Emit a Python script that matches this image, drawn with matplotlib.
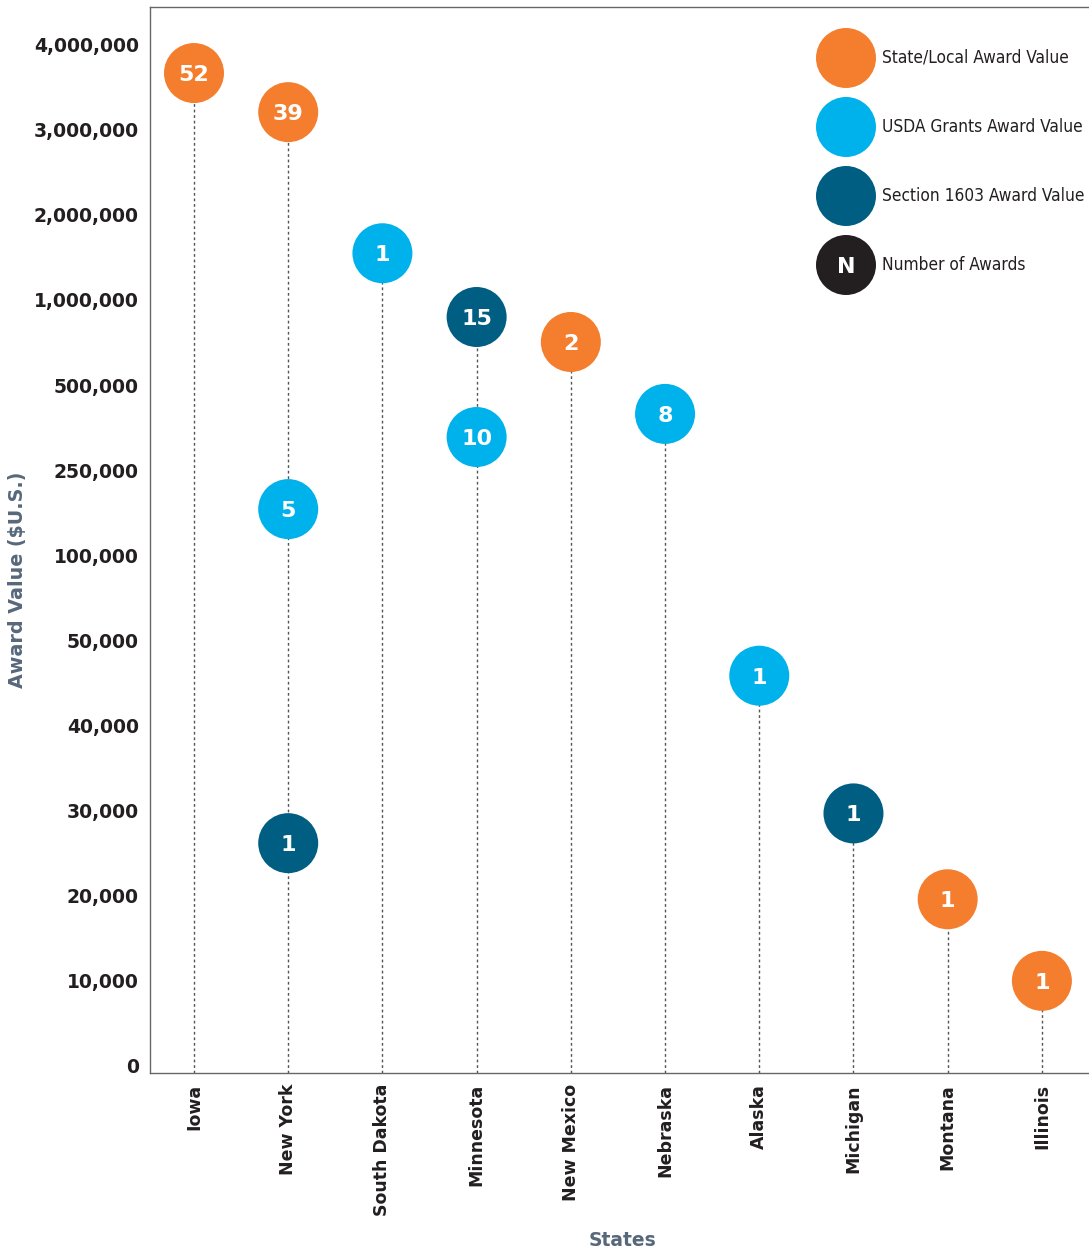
import numpy as np
import matplotlib
matplotlib.use("Agg")
import matplotlib.pyplot as plt

states = ["Iowa", "New York", "South Dakota", "Minnesota", "New Mexico",
          "Nebraska", "Alaska", "Michigan", "Montana", "Illinois"]

# award values per state (nan = no award of that type)
state_local = [3670000, 3210000, np.nan, np.nan, 753000, np.nan, np.nan, np.nan, 19500, 9900]
state_local_n = [52, 39, 0, 0, 2, 0, 0, 0, 1, 1]
usda = [np.nan, 181000, 1550000, 347000, np.nan, 415000, 45800, np.nan, np.nan, np.nan]
usda_n = [0, 5, 1, 10, 0, 8, 1, 0, 0, 0]
sec1603 = [np.nan, 26100, np.nan, 900000, np.nan, np.nan, np.nan, 29600, np.nan, np.nan]
sec1603_n = [0, 1, 0, 15, 0, 0, 0, 1, 0, 0]

tick_vals = [0, 10000, 20000, 30000, 40000, 50000, 100000, 250000,
             500000, 1000000, 2000000, 3000000, 4000000]
tick_labels = ["0", "10,000", "20,000", "30,000", "40,000", "50,000", "100,000",
               "250,000", "500,000", "1,000,000", "2,000,000", "3,000,000", "4,000,000"]

ORANGE = "#F47E2E"
LIGHT = "#00B2EB"
DARK = "#005E82"
BLACK = "#231F20"
GREY_LABEL = "#56687A"

tv = np.array(tick_vals, float)
tp = np.arange(len(tv), dtype=float)


def fwd(v):
    v = np.asarray(v, float)
    out = np.interp(v, tv, tp)
    out = np.where(v < 0, v / 1e4, out)
    out = np.where(v > tv[-1], tp[-1] + (v - tv[-1]) / 1e6, out)
    return out


def inv(p):
    p = np.asarray(p, float)
    out = np.interp(p, tp, tv)
    out = np.where(p < 0, p * 1e4, out)
    out = np.where(p > tp[-1], tv[-1] + (p - tp[-1]) * 1e6, out)
    return out


fig = plt.figure(figsize=(10.89, 12.55), dpi=100)
ax = fig.add_axes([150 / 1089, 182 / 1255, 939 / 1089, 1066 / 1255])
ax.set_yscale("function", functions=(fwd, inv))

x = np.arange(len(states))
ymin = -940
ax.set_xlim(-0.467, 9.5)
ax.set_ylim(ymin, 4447000)

# dotted stems up to the highest marker in each state
tops = np.nanmax(np.array([state_local, usda, sec1603], float), axis=0)
ax.vlines(x, ymin, tops, colors="#555555", linestyles=(0, (2, 2)), linewidth=1, zorder=1)

size = 1866
for vals, counts, col in [(state_local, state_local_n, ORANGE),
                          (usda, usda_n, LIGHT),
                          (sec1603, sec1603_n, DARK)]:
    vals = np.array(vals, float)
    ok = ~np.isnan(vals)
    ax.scatter(x[ok], vals[ok], s=size, color=col, edgecolors="none", zorder=3)
    for xi, v, n in zip(x[ok], vals[ok], np.array(counts)[ok]):
        ax.text(xi, v, str(n), color="white", fontsize=16, fontweight="bold",
                ha="center", va="center_baseline", zorder=4)

ax.set_yticks(tick_vals)
ax.set_yticklabels(tick_labels)
ax.minorticks_off()
ax.set_xticks(x)
ax.set_xticklabels(states, rotation=90)
ax.tick_params(length=0, labelcolor=BLACK)
ax.tick_params(axis="y", pad=8, labelsize=13.5)
ax.tick_params(axis="x", pad=8, labelsize=12.5)
for lab in ax.get_xticklabels() + ax.get_yticklabels():
    lab.set_fontweight("bold")

for side in ["left", "top", "bottom"]:
    ax.spines[side].set_color("#666666")
    ax.spines[side].set_linewidth(1)
ax.spines["right"].set_visible(False)

ax.set_ylabel("Award Value ($U.S.)", fontsize=13.8, fontweight="bold", color=GREY_LABEL)
ax.yaxis.set_label_coords(-0.1406, 0.4625)
ax.yaxis.label.set_va("center")
ax.set_xlabel("States", fontsize=13.5, fontweight="bold", color=GREY_LABEL)
ax.xaxis.set_label_coords(0.503, -0.1567)
ax.xaxis.label.set_va("center")

# legend drawn by hand
leg_items = [(ORANGE, "State/Local Award Value", ""),
             (LIGHT, "USDA Grants Award Value", ""),
             (DARK, "Section 1603 Award Value", ""),
             (BLACK, "Number of Awards", "N")]
for i, (col, txt, mark) in enumerate(leg_items):
    ly = 1 - (58 + 69 * i - 7) / 1066
    lx = (846 - 150) / 939
    ax.scatter([lx], [ly], s=size, color=col, edgecolors="none", transform=ax.transAxes,
               clip_on=False, zorder=3)
    if mark:
        ax.text(lx, ly, mark, color="white", fontsize=16, fontweight="bold", ha="center",
                va="center_baseline", transform=ax.transAxes, zorder=4)
    ax.text((882 - 150) / 939, ly, txt, fontsize=12.4, color=BLACK, ha="left", va="center",
            family="DejaVu Sans", fontstretch="condensed", transform=ax.transAxes)

fig.savefig("out.png", dpi=100)
